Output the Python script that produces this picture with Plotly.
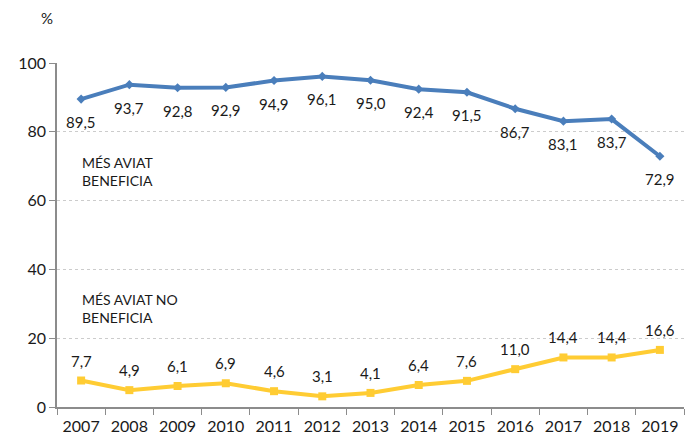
import plotly.graph_objects as go

years = ["2007", "2008", "2009", "2010", "2011", "2012", "2013", "2014", "2015", "2016", "2017", "2018", "2019"]
benefits = [89.5, 93.7, 92.8, 92.9, 94.9, 96.1, 95.0, 92.4, 91.5, 86.7, 83.1, 83.7, 72.9]
no_benefits = [7.7, 4.9, 6.1, 6.9, 4.6, 3.1, 4.1, 6.4, 7.6, 11.0, 14.4, 14.4, 16.6]
y_ticks = [0, 20, 40, 60, 80, 100]

def fmt(v):
    return f"{v:.1f}".replace(".", ",")

FONT = "Lato, 'Open Sans', sans-serif"
TXT = "#1a1a1a"

fig = go.Figure()
fig.add_trace(go.Scatter(
    x=years, y=benefits, mode="lines+markers",
    line=dict(color="#4A7EBB", width=4),
    marker=dict(symbol="diamond", size=7, color="#4A7EBB"),
    cliponaxis=False, showlegend=False,
))
fig.add_trace(go.Scatter(
    x=years, y=no_benefits, mode="lines+markers",
    line=dict(color="#FFCC33", width=4),
    marker=dict(symbol="square", size=8, color="#FFCC33"),
    cliponaxis=False, showlegend=False,
))

annotations = []
for i, v in enumerate(benefits):
    annotations.append(dict(text=fmt(v), x=i, y=v, xref="x", yref="y",
                            yshift=-23, showarrow=False,
                            font=dict(size=15, color=TXT)))
for i, v in enumerate(no_benefits):
    annotations.append(dict(text=fmt(v), x=i, y=v, xref="x", yref="y",
                            yshift=20, showarrow=False,
                            font=dict(size=15, color=TXT)))
annotations += [
    dict(text="%", x=0, xref="paper", xanchor="center", xshift=-10,
         y=1, yref="paper", yshift=45, yanchor="middle", showarrow=False,
         font=dict(size=15, color=TXT)),
    dict(text="MÉS AVIAT<br>BENEFICIA", x=-0.02, xref="x", xanchor="left",
         y=68.5, yref="y", yanchor="middle", align="left", showarrow=False,
         font=dict(size=14, color=TXT)),
    dict(text="MÉS AVIAT NO<br>BENEFICIA", x=-0.02, xref="x", xanchor="left",
         y=28.5, yref="y", yanchor="middle", align="left", showarrow=False,
         font=dict(size=14, color=TXT)),
]

fig.update_layout(
    width=691, height=440,
    margin=dict(l=57, r=7, t=63, b=33),
    paper_bgcolor="white", plot_bgcolor="white",
    font=dict(family=FONT, size=15, color=TXT),
    xaxis=dict(
        type="category", range=[-0.5, 12.5], tickson="boundaries",
        ticks="outside", ticklen=6, tickcolor="#8c8c8c",
        showline=True, linecolor="#8c8c8c", linewidth=1.5,
        showgrid=False, tickfont=dict(size=16, color=TXT),
        ticklabelstandoff=4, automargin=False,
    ),
    yaxis=dict(
        range=[0, 100], tickvals=y_ticks, ticks="outside", ticklen=6,
        tickcolor="#8c8c8c", showline=True, linecolor="#8c8c8c", linewidth=1.5,
        showgrid=True, gridcolor="#cccccc", griddash="dot", gridwidth=1,
        zeroline=False, tickfont=dict(size=16, color=TXT),
    ),
    annotations=annotations,
)

fig.write_html("out.html", config={"displayModeBar": False},
               post_script="document.body.style.margin='0';")
